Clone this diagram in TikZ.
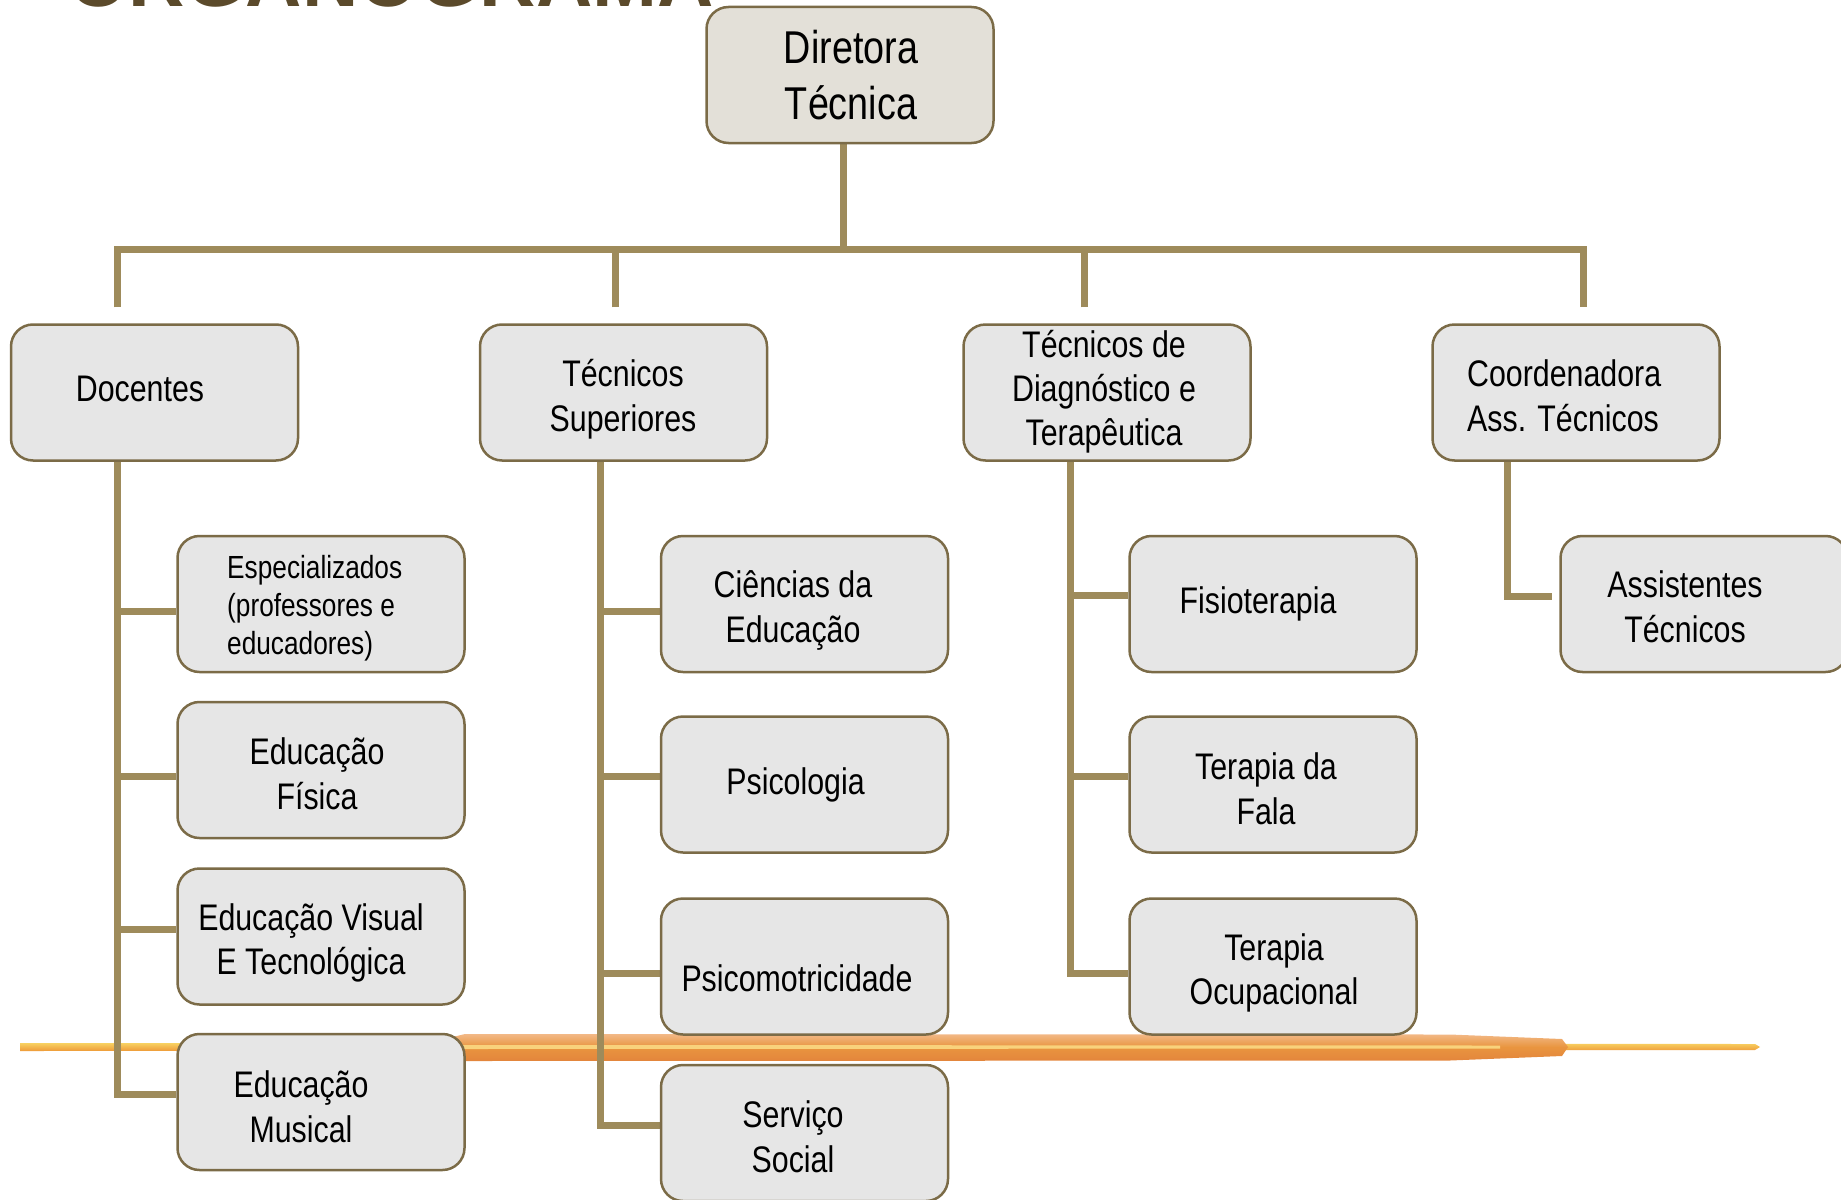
\documentclass[tikz,border=0pt]{standalone}
\usepackage{fontspec}
\setmainfont{Liberation Sans}[FakeStretch=0.82]
\newfontfamily\ttlfont{Liberation Sans}
\usetikzlibrary{backgrounds}
\definecolor{conncol}{HTML}{9E8B5B}
\definecolor{boxline}{HTML}{7B6B47}
\definecolor{boxfill}{HTML}{E6E6E6}
\definecolor{topfill}{HTML}{E3E0D8}
\definecolor{ttlcol}{HTML}{5B4A2B}
\definecolor{bandtop}{HTML}{F2B987}
\definecolor{bandmid}{HTML}{E9953F}
\definecolor{bandbot}{HTML}{E3853C}
\definecolor{bandstripe}{HTML}{F9D27C}
\definecolor{streaktop}{HTML}{F8D262}
\definecolor{streakbot}{HTML}{EE9A38}
\begin{document}
\begin{tikzpicture}[x=1pt,y=-1pt,
  orgbox/.style={draw=boxline, line width=2.5pt, fill=boxfill, rounded corners=22pt,
    minimum width=287pt, minimum height=136pt, inner sep=0pt},
  topbox/.style={orgbox, fill=topfill},
  lbl/.style={inner sep=0pt, align=center, text=black, font=\fontsize{37}{44.6}\selectfont},
  lblsmall/.style={inner sep=0pt, align=left, text=black, font=\fontsize{32}{38}\selectfont},
  conn/.style={draw=conncol, line width=7pt}]
\useasboundingbox (0,0) rectangle (1841,1199);
\clip (0,0) rectangle (1841,1199);

% title (cut off by top edge)
\node[anchor=base west, inner sep=0pt, text=ttlcol, font=\ttlfont\bfseries\fontsize{78}{80}\selectfont] (ttl) at (68,7) {ORGANOGRAMA};

% boxes
\node[topbox] (dir) at (850,75) {};
\node[orgbox] (doc) at (154.5,392.5) {};
\node[orgbox] (ts) at (623.5,392.5) {};
\node[orgbox] (tdt) at (1107,392.5) {};
\node[orgbox] (coord) at (1576,392.5) {};

\node[orgbox] (spec) at (321,604) {};
\node[orgbox] (ef) at (321,770) {};
\node[orgbox] (evt) at (321,936.5) {};
\node[orgbox] (em) at (321,1102) {};

\node[orgbox] (ce) at (804.5,604) {};
\node[orgbox] (psi) at (804.5,784.5) {};
\node[orgbox] (psm) at (804.5,966.5) {};
\node[orgbox] (ss) at (804.5,1133) {};

\node[orgbox] (fis) at (1273,604) {};
\node[orgbox] (tf) at (1273,784.5) {};
\node[orgbox] (to) at (1273,966.5) {};

\node[orgbox] (ast) at (1704,604) {};

\begin{scope}[on background layer]
% decorative band
\shade[top color=streaktop, bottom color=streakbot] (20,1043) -- (1755,1044) -- (1760,1047) -- (1755,1050) -- (20,1051) -- cycle;
\shade[top color=bandtop, bottom color=bandmid]
  (440,1040) -- (465,1034) -- (1450,1034.5) -- (1562,1039) -- (1568,1047) -- (450,1047) -- cycle;
\shade[top color=bandmid, bottom color=bandbot]
  (450,1047) -- (1568,1047) -- (1562,1056) -- (1450,1060.5) -- (465,1061) -- (440,1054) -- cycle;
\fill[bandstripe] (460,1045) -- (1500,1045.5) -- (1500,1048.5) -- (460,1049) -- cycle;

% connectors
\coordinate (bus) at (843,249);
\draw[conn] ([xshift=-7pt]dir.south) -- (bus);
\draw[conn] ([xshift=-37.5pt,yshift=16pt]doc.north) |- (bus) -| ([xshift=7pt,yshift=16pt]coord.north);
\draw[conn] ([xshift=-8.5pt,yshift=16pt]ts.north) |- (bus);
\draw[conn] ([xshift=-23pt,yshift=16pt]tdt.north) |- (bus);

\draw[conn] ([xshift=-37.5pt]doc.south) |- ([yshift=-7pt]spec.west);
\draw[conn] ([xshift=-37.5pt]doc.south) |- ([yshift=-6pt]ef.west);
\draw[conn] ([xshift=-37.5pt]doc.south) |- ([yshift=7.5pt]evt.west);
\draw[conn] ([xshift=-37.5pt]doc.south) |- ([yshift=8pt]em.west);

\draw[conn] ([xshift=-23.5pt]ts.south) |- ([yshift=-7pt]ce.west);
\draw[conn] ([xshift=-23.5pt]ts.south) |- ([yshift=8.5pt]psi.west);
\draw[conn] ([xshift=-23.5pt]ts.south) |- ([yshift=-6.5pt]psm.west);
\draw[conn] ([xshift=-23.5pt]ts.south) |- ([yshift=8pt]ss.west);

\draw[conn] ([xshift=-37pt]tdt.south) |- ([yshift=9pt]fis.west);
\draw[conn] ([xshift=-37pt]tdt.south) |- ([yshift=8.5pt]tf.west);
\draw[conn] ([xshift=-37pt]tdt.south) |- ([yshift=-6.5pt]to.west);

\draw[conn] ([xshift=-69pt]coord.south) |- ([xshift=-7pt,yshift=8pt]ast.west);
\end{scope}

% labels
\node[lbl, font=\fontsize{46}{56}\selectfont] (dir-t) at (851,75.5) {Diretora\\Técnica};
\node[lbl] (doc-t) at (140,389) {Docentes};
\node[lbl] (ts-t) at (623,399) {Técnicos\\Superiores};
\node[lbl, font=\fontsize{37}{44}\selectfont] (tdt-t) at (1104,391.5) {Técnicos de\\Diagnóstico e\\Terapêutica};
\node[lbl, align=left, anchor=west] (coord-t) at (1467,396) {Coordenadora\\Ass. Técnicos};

\node[lblsmall, anchor=west] (spec-t) at (227,608.5) {Especializados\\(professores e\\educadores)};
\node[lbl] (ef-t) at (317,774) {Educação\\Física};
\node[lbl] (evt-t) at (311,943) {Educação Visual\\E Tecnológica};
\node[lbl] (em-t) at (301,1107) {Educação\\Musical};

\node[lbl] (ce-t) at (793,610.5) {Ciências da\\Educação};
\node[lbl] (psi-t) at (795.5,785) {Psicologia};
\node[lbl] (psm-t) at (797,978) {Psicomotricidade};
\node[lbl] (ss-t) at (793,1137) {Serviço\\Social};

\node[lbl] (fis-t) at (1258,603.5) {Fisioterapia};
\node[lbl] (tf-t) at (1266,789) {Terapia da\\Fala};
\node[lbl] (to-t) at (1274,973) {Terapia\\Ocupacional};

\node[lbl] (ast-t) at (1685,607) {Assistentes\\Técnicos};
\end{tikzpicture}
\end{document}
